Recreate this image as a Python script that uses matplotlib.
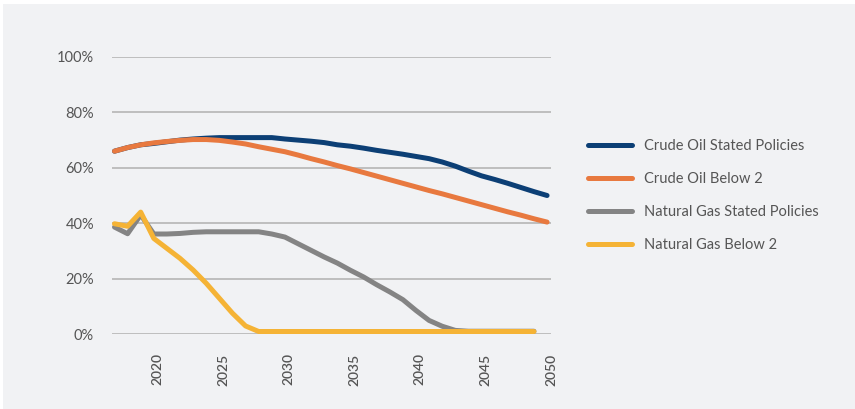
import matplotlib
matplotlib.use("Agg")
import matplotlib.pyplot as plt
from matplotlib.patches import Rectangle
from matplotlib.ticker import FuncFormatter

years = list(range(2017, 2051))

crude_oil_stated = [66.0, 67.3, 68.3, 68.8, 69.4, 70.0, 70.4, 70.7, 70.9, 70.9, 70.9, 70.9, 70.9,
                    70.4, 70.0, 69.6, 69.1, 68.3, 67.8, 67.1, 66.3, 65.6, 64.9, 64.1, 63.3,
                    62.1, 60.6, 58.8, 57.1, 55.8, 54.4, 52.9, 51.4, 50.0]
crude_oil_b2 = [66.0, 67.3, 68.3, 69.0, 69.5, 69.9, 70.2, 70.2, 69.9, 69.3, 68.6, 67.6, 66.7,
                65.8, 64.6, 63.3, 62.1, 60.8, 59.6, 58.3, 57.0, 55.7, 54.4, 53.1, 51.8,
                50.6, 49.3, 48.0, 46.7, 45.4, 44.1, 42.9, 41.6, 40.4]
nat_gas_stated = [38.6, 36.2, 43.0, 36.1, 36.1, 36.3, 36.7, 36.9, 36.9, 36.9, 36.9, 36.9, 36.1,
                  35.0, 32.6, 30.2, 27.8, 25.6, 23.0, 20.6, 17.8, 15.2, 12.4, 8.5, 4.9,
                  2.8, 1.3, 1.0, 1.0, 1.0, 1.0, 1.0, 1.0]
nat_gas_b2 = [39.8, 38.9, 44.0, 34.5, 30.9, 27.3, 23.1, 18.3, 12.9, 7.5, 2.9, 0.9, 0.9,
              0.9, 0.9, 0.9, 0.9, 0.9, 0.9, 0.9, 0.9, 0.9, 0.9, 0.9, 0.9,
              0.9, 0.9, 0.9, 0.9, 0.9, 0.9, 0.9, 0.9]

series_names = ["Crude Oil Stated Policies", "Crude Oil Below 2",
                "Natural Gas Stated Policies", "Natural Gas Below 2"]
series_values = [crude_oil_stated, crude_oil_b2, nat_gas_stated, nat_gas_b2]
series_colors = ["#0C3F75", "#E8793F", "#848484", "#F5B335"]

y_ticks = [0, 20, 40, 60, 80, 100]
x_ticks = [2020, 2025, 2030, 2035, 2040, 2045, 2050]

plt.rcParams['font.family'] = ['Lato', 'DejaVu Sans']

fig = plt.figure(figsize=(8.55, 4.09), dpi=100, facecolor="white")
bg = "#F1F2F4"
fig.patches.append(Rectangle((3 / 855, 0), 1, 1 - 4 / 409, transform=fig.transFigure,
                             facecolor=bg, edgecolor="none", zorder=-10))

ax = fig.add_axes([112 / 855, 1 - 334 / 409, (551 - 112) / 855, (334 - 57) / 409])
ax.set_facecolor(bg)

lines = []
for name, vals, col in zip(series_names, series_values, series_colors):
    ln, = ax.plot(years[:len(vals)], vals, color=col, lw=3.6, solid_capstyle="round",
                  solid_joinstyle="round", label=name, zorder=3)
    lines.append(ln)
lines[1].set_zorder(4)
lines[3].set_zorder(4)

ax.set_ylim(0, 100)
ax.set_xlim(2016.81, 2050.27)
ax.set_yticks(y_ticks)
ax.yaxis.set_major_formatter(FuncFormatter(lambda v, p: f"{int(v)}%"))
# labels sit slightly right of the category point, as in the source chart
ax.set_xticks([x + 0.3 for x in x_ticks])
ax.set_xticklabels([str(x) for x in x_ticks], rotation=90, fontsize=10, color="#555555",
                   fontweight="semibold")
for lab in ax.get_yticklabels():
    lab.set_fontsize(10.5)
    lab.set_color("#555555")

ax.grid(axis="y", color="#B5B5B5", lw=1.2, zorder=1)
ax.tick_params(axis="both", length=0)
ax.tick_params(axis="y", pad=13)
ax.tick_params(axis="x", pad=14)
for s in ax.spines.values():
    s.set_visible(False)

leg = fig.legend(handles=lines, labels=series_names, loc="upper left",
                 bbox_to_anchor=(575 / 855, 1 - 126 / 409), frameon=False,
                 fontsize=10.5, labelcolor="#555555", handlelength=3.0,
                 handletextpad=0.85, labelspacing=1.3)
for h in leg.legend_handles:
    h.set_linewidth(3.6)
    h.set_solid_capstyle("round")

fig.savefig("out.png", dpi=100, facecolor="white")
